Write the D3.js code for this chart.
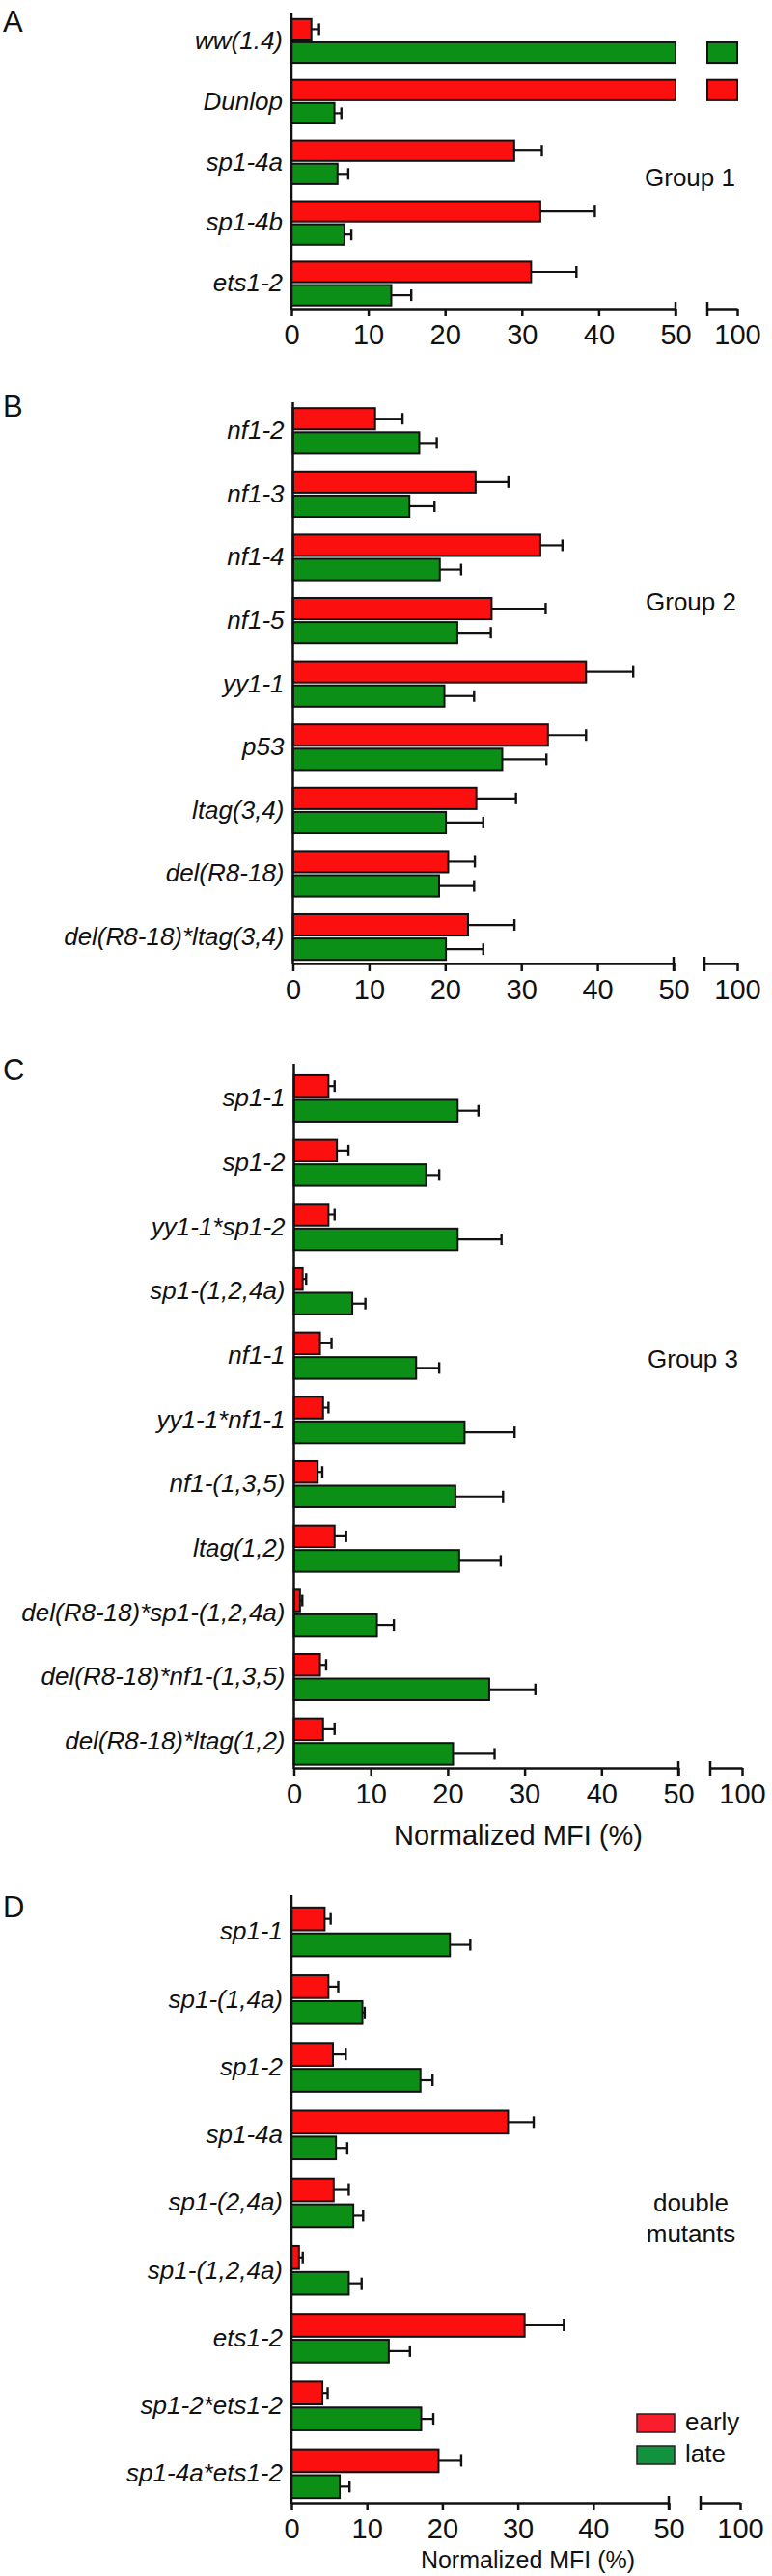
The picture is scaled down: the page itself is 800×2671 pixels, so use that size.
<!DOCTYPE html>
<html>
<head>
<meta charset="utf-8">
<script src="https://cdn.jsdelivr.net/npm/d3@7"></script>
<style>
  body { margin: 0; background: #fff; }
  svg { display: block; }
</style>
</head>
<body>
<svg id="fig" width="800" height="2671"></svg>
<script>
// 1: DATA (% normalized MFI)
const catsA = ["ww(1.4)", "Dunlop", "sp1-4a", "sp1-4b", "ets1-2"];
const earlyA = [2.6, 100, 29.0, 32.4, 31.2];
const earlyErrA = [1.0, 0, 3.6, 7.1, 5.9];
const lateA = [100, 5.6, 6.0, 6.9, 13.0];
const lateErrA = [0, 0.9, 1.4, 0.9, 2.6];

const catsB = ["nf1-2", "nf1-3", "nf1-4", "nf1-5", "yy1-1", "p53", "ltag(3,4)", "del(R8-18)", "del(R8-18)*ltag(3,4)"];
const earlyB = [10.8, 24.0, 32.5, 26.1, 38.5, 33.5, 24.1, 20.4, 23.0];
const earlyErrB = [3.6, 4.3, 2.9, 7.1, 6.2, 5.0, 5.2, 3.5, 6.1];
const lateB = [16.6, 15.3, 19.3, 21.6, 19.9, 27.5, 20.1, 19.2, 20.1];
const lateErrB = [2.3, 3.3, 2.8, 4.4, 3.9, 5.8, 4.9, 4.6, 4.9];

const catsC = ["sp1-1", "sp1-2", "yy1-1*sp1-2", "sp1-(1,2,4a)", "nf1-1", "yy1-1*nf1-1", "nf1-(1,3,5)", "ltag(1,2)",
    "del(R8-18)*sp1-(1,2,4a)", "del(R8-18)*nf1-(1,3,5)", "del(R8-18)*ltag(1,2)"];
const earlyC = [4.5, 5.6, 4.5, 1.15, 3.4, 3.8, 3.1, 5.3, 0.8, 3.4, 3.8];
const earlyErrC = [0.8, 1.5, 0.8, 0.45, 1.5, 0.7, 0.6, 1.5, 0.3, 0.8, 1.5];
const lateC = [21.3, 17.2, 21.3, 7.6, 15.9, 22.2, 21.0, 21.5, 10.8, 25.4, 20.7];
const lateErrC = [2.7, 1.7, 5.7, 1.7, 3.0, 6.5, 6.2, 5.4, 2.2, 6.0, 5.4];

const catsD = ["sp1-1", "sp1-(1,4a)", "sp1-2", "sp1-4a", "sp1-(2,4a)", "sp1-(1,2,4a)", "ets1-2", "sp1-2*ets1-2", "sp1-4a*ets1-2"];
const earlyD = [4.4, 4.9, 5.5, 28.7, 5.6, 1.0, 30.9, 4.1, 19.5];
const earlyErrD = [0.8, 1.3, 1.7, 3.4, 2.0, 0.5, 5.2, 0.7, 3.0];
const lateD = [21.0, 9.4, 17.1, 5.9, 8.2, 7.6, 12.9, 17.2, 6.4];
const lateErrD = [2.7, 0.3, 1.6, 1.5, 1.3, 1.7, 2.8, 1.6, 1.3];

const series = ["early", "late"];
const tickValues = [0, 10, 20, 30, 40, 50];
const breakTicks = [100];
const xTitle = "Normalized MFI (%)";

// 2: STYLE
const FONT = "'Liberation Sans', Arial, Helvetica, sans-serif";
const barColor = { early: "#fb0f0f", late: "#0b8f16" };
const legendColor = { early: "#f81e2e", late: "#10933c" };
const BREAK_LO = 95;

const svg = d3.select("#fig");

// panel layout (pixels)
const panels = [
    { letter: "A", letterY: 33, cats: catsA, early: earlyA, earlyErr: earlyErrA, late: lateA, lateErr: lateErrA,
      top: 13, y0: 11, y1: 325.5, axisY: 320, x0: 302, x50: 700, xb0: 733, x100: 764,
      note: ["Group 1"], noteX: 715, noteY: 193 },
    { letter: "B", letterY: 432, cats: catsB, early: earlyB, earlyErr: earlyErrB, late: lateB, lateErr: lateErrB,
      top: 417, y0: 414, y1: 1004.4, axisY: 999, x0: 303.5, x50: 698, xb0: 730, x100: 764,
      note: ["Group 2"], noteX: 716, noteY: 633 },
    { letter: "C", letterY: 1120, cats: catsC, early: earlyC, earlyErr: earlyErrC, late: lateC, lateErr: lateErrC,
      top: 1103, y0: 1105.6, y1: 1839, axisY: 1833, x0: 304.5, x50: 703, xb0: 736, x100: 769,
      note: ["Group 3"], noteX: 718, noteY: 1418, title: true, titleX: 537, titleY: 1913, titleSize: 29 },
    { letter: "D", letterY: 1988, cats: catsD, early: earlyD, earlyErr: earlyErrD, late: lateD, lateErr: lateErrD,
      top: 1965, y0: 1968, y1: 2600, axisY: 2595, x0: 302, x50: 693, xb0: 726, x100: 767,
      note: ["double", "mutants"], noteX: 716, noteY: 2293, title: true, titleX: 547, titleY: 2663, titleSize: 25,
      legend: true }
];

panels.forEach(drawPanel);

function drawPanel(p) {
    const g = svg.append("g");

    // 3: SCALES (broken x axis: 0-50 then a short 95-100 piece)
    const xa = d3.scaleLinear().domain([0, 50]).range([p.x0, p.x50]);
    const xb = d3.scaleLinear().domain([BREAK_LO, 100]).range([p.xb0, p.x100]);
    const y = d3.scaleBand().domain(p.cats).range([p.y0, p.y1]).paddingInner(0.28).paddingOuter(0.14);
    const ySub = d3.scaleBand().domain(series).range([0, y.bandwidth()]).paddingInner(0.12);

    const rows = [];
    p.cats.forEach((c, i) => {
        rows.push({ cat: c, s: "early", v: p.early[i], e: p.earlyErr[i] });
        rows.push({ cat: c, s: "late", v: p.late[i], e: p.lateErr[i] });
    });

    // 4: BARS
    rows.forEach(d => {
        const yy = y(d.cat) + ySub(d.s);
        const h = ySub.bandwidth();
        const pieces = d.v <= 50 ? [[xa(0), xa(d.v)]] : [[xa(0), xa(50)], [xb(BREAK_LO), xb(d.v)]];
        pieces.forEach(([a, b]) => {
            g.append("rect")
                .attr("x", a).attr("y", yy)
                .attr("width", b - a).attr("height", h)
                .attr("fill", barColor[d.s])
                .attr("stroke", "#111").attr("stroke-width", 2);
        });
        if (d.e > 0) {
            const cy = yy + h / 2;
            const xe = xa(d.v + d.e);
            g.append("line").attr("x1", xa(d.v)).attr("x2", xe).attr("y1", cy).attr("y2", cy)
                .attr("stroke", "#111").attr("stroke-width", 2.2);
            g.append("line").attr("x1", xe).attr("x2", xe).attr("y1", cy - 6).attr("y2", cy + 6)
                .attr("stroke", "#111").attr("stroke-width", 2.4);
        }
    });

    // 5: AXES
    const axA = g.append("g")
        .attr("transform", `translate(0,${p.axisY})`)
        .call(d3.axisBottom(xa).tickValues(tickValues).tickFormat(d3.format("d"))
            .tickSize(8).tickSizeOuter(0).tickPadding(8));
    const axB = g.append("g")
        .attr("transform", `translate(0,${p.axisY})`)
        .call(d3.axisBottom(xb).tickValues(breakTicks).tickFormat(d3.format("d"))
            .tickSize(8).tickSizeOuter(0).tickPadding(8));
    [axA, axB].forEach(ax => {
        ax.attr("font-size", 29).attr("font-family", FONT);
        ax.select(".domain").attr("stroke", "#111").attr("stroke-width", 2.5);
        ax.selectAll(".tick line").attr("stroke", "#111").attr("stroke-width", 2.5);
        ax.selectAll(".tick text").attr("fill", "#111");
    });
    // break marks crossing the axis line
    [xa(50), xb(BREAK_LO)].forEach(bx => {
        g.append("line").attr("x1", bx).attr("x2", bx)
            .attr("y1", p.axisY - 7).attr("y2", p.axisY + 8)
            .attr("stroke", "#111").attr("stroke-width", 2.5);
    });

    // vertical axis with category labels
    g.append("line").attr("x1", p.x0).attr("x2", p.x0).attr("y1", p.top).attr("y2", p.axisY + 1)
        .attr("stroke", "#111").attr("stroke-width", 2.5);
    const axY = g.append("g")
        .attr("transform", `translate(${p.x0},0)`)
        .call(d3.axisLeft(y).tickSize(0).tickPadding(9));
    axY.select(".domain").remove();
    axY.attr("font-size", 26).attr("font-family", FONT).attr("font-style", "italic");
    axY.selectAll(".tick text").attr("fill", "#111");

    // 6: LABELS
    svg.append("text")
        .attr("x", 3).attr("y", p.letterY)
        .attr("font-family", FONT).attr("font-size", 31).attr("fill", "#111")
        .text(p.letter);

    p.note.forEach((t, i) => {
        svg.append("text")
            .attr("x", p.noteX).attr("y", p.noteY + i * 32)
            .attr("text-anchor", "middle")
            .attr("font-family", FONT).attr("font-size", 26).attr("fill", "#111")
            .text(t);
    });

    if (p.title) {
        svg.append("text")
            .attr("x", p.titleX).attr("y", p.titleY)
            .attr("text-anchor", "middle")
            .attr("font-family", FONT).attr("font-size", p.titleSize).attr("fill", "#111")
            .text(xTitle);
    }

    if (p.legend) {
        const lg = svg.append("g").attr("transform", "translate(660,2503)");
        series.forEach((s, i) => {
            lg.append("rect")
                .attr("x", 0).attr("y", i * 33)
                .attr("width", 39).attr("height", 19)
                .attr("fill", legendColor[s])
                .attr("stroke", "#222").attr("stroke-width", 1.5);
            lg.append("text")
                .attr("x", 50).attr("y", i * 33 + 17)
                .attr("font-family", FONT).attr("font-size", 26).attr("fill", "#111")
                .text(s);
        });
    }
}
</script>
</body>
</html>
